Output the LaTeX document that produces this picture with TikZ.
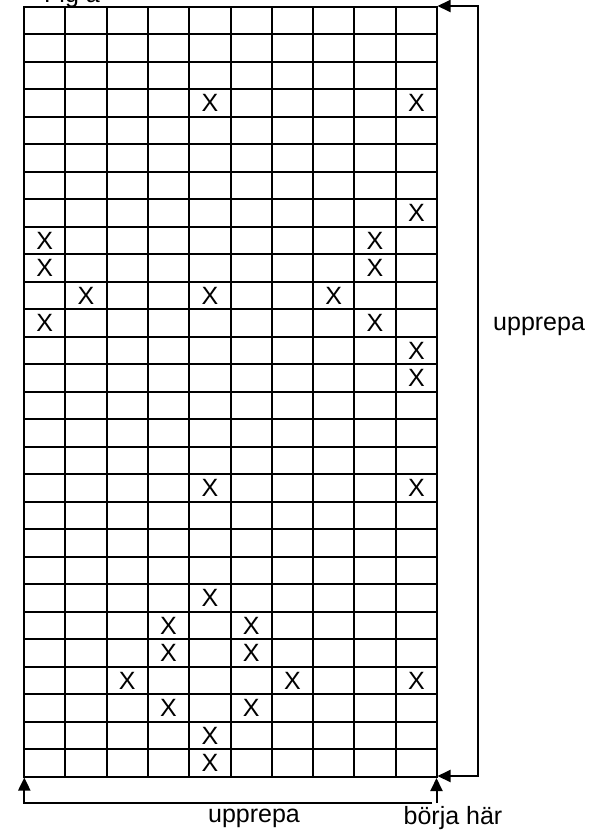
\documentclass[tikz,border=0pt]{standalone}
\usepackage{fontspec}
\setmainfont{Liberation Sans}
\usetikzlibrary{arrows.meta}
\begin{document}
\begin{tikzpicture}[x=1pt,y=-1pt,
  gridline/.style={line width=2pt},
  conn/.style={line width=2pt},
  tip/.style={-{Triangle[length=13pt,width=12pt]}},
  lbl/.style={font=\fontsize{25}{29}\selectfont, inner sep=0pt}]
\useasboundingbox (0,0) rectangle (592,832);
\fill[white] (0,0) rectangle (592,832);
% title, cut at the top edge as in the reference
\node[lbl, anchor=base west] (title) at (44,3) {Fig a};
% grid
\def\cw{41.3}
\def\rh{27.5}
\foreach \c in {0,...,10} {
  \draw[gridline] ({24+\c*\cw},6.7) -- ({24+\c*\cw},776.7);
}
\foreach \r in {0,...,28} {
  \draw[gridline] (23,{6.7+\r*\rh}) -- (438,{6.7+\r*\rh});
}
% X marks: row/col
\foreach \r/\c in {3/4,3/9,7/9,8/0,8/8,9/0,9/8,10/1,10/4,10/7,11/0,11/8,12/9,13/9,
                   17/4,17/9,21/4,22/3,22/5,23/3,23/5,24/2,24/6,24/9,25/3,25/5,26/4,27/4} {
  \node[lbl] at ({24+(\c+0.5)*\cw},{6.7+(\r+0.5)*\rh}) {X};
}
% connector coordinates
\coordinate (tr) at (437.5,6);
\coordinate (trb) at (478,6);
\coordinate (brb) at (478,776);
\coordinate (br) at (437.5,776);
\coordinate (bl) at (24.3,777.5);
\coordinate (blb) at (24.3,803);
\coordinate (hend) at (432,803);
\coordinate (brs) at (436.5,803);
\coordinate (brt) at (436.5,778);
% right bracket with arrows
\draw[conn, {Triangle[length=13pt,width=12pt]}-{Triangle[length=13pt,width=12pt]}] (tr) -- (trb) -- (brb) -- (br);
% bottom bracket
\draw[conn, tip] (hend) -- (blb) -- (bl);
\draw[conn, tip] (brs) -- (brt);
% labels
\node[lbl, anchor=west] (rlab) at (493,326) {upprepa};
\node[lbl] (blab) at (254,818) {upprepa};
\node[lbl] (start) at (453,818) {börja här};
\end{tikzpicture}
\end{document}
